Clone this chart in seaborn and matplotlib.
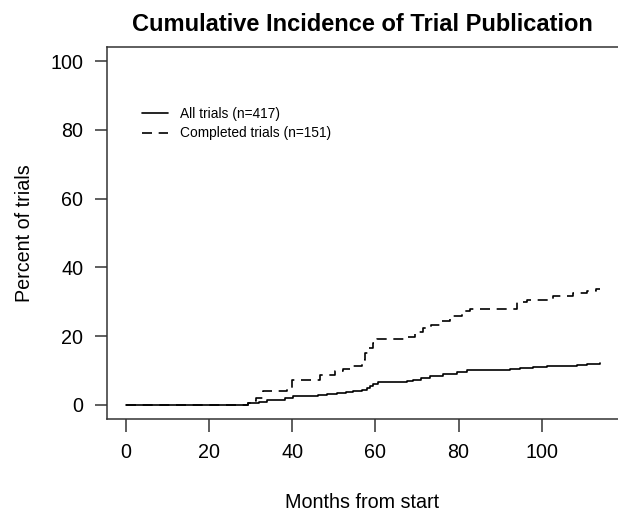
import seaborn as sns
import pandas as pd
import matplotlib.pyplot as plt

# months from start / cumulative percent published
all_months = [0, 29.4, 30.5, 32.0, 33.9, 38.3, 40.3, 46.3, 48.5, 50.7, 53.0, 54.7, 56.7,
              57.9, 58.8, 59.5, 60.7, 67.5, 69.1, 71.0, 73.1, 76.3, 79.6, 82.0, 84.4,
              92.4, 94.8, 98.0, 101.2, 105.0, 108.4, 111.0, 114.0]
all_pct = [0, 0.5, 0.7, 1.0, 1.4, 1.9, 2.6, 2.9, 3.1, 3.4, 3.8, 4.1, 4.3,
           5.0, 5.5, 6.0, 6.7, 7.0, 7.4, 7.9, 8.4, 9.1, 9.6, 10.1, 10.3,
           10.5, 10.8, 11.0, 11.2, 11.4, 11.6, 11.8, 12.1]

done_months = [0, 29.4, 30.5, 31.3, 33.0, 38.7, 40.0, 46.7, 50.3, 52.3, 54.7, 56.7, 57.5,
               58.5, 59.5, 60.5, 67.5, 69.5, 71.5, 73.5, 75.6, 78.0, 80.8, 82.8, 94.0,
               96.4, 102.8, 107.6, 110.8, 113.0, 114.0]
done_pct = [0, 0.7, 1.3, 2.0, 4.0, 4.6, 7.3, 8.6, 9.9, 10.6, 11.3, 13.2, 15.2,
            16.6, 17.9, 19.2, 19.9, 21.2, 22.5, 23.2, 24.5, 25.8, 27.2, 27.8, 29.8,
            30.5, 31.8, 32.5, 33.1, 33.8, 33.8]

x_ticks = [0, 20, 40, 60, 80, 100]
y_ticks = [0, 20, 40, 60, 80, 100]

sns.set_theme(style='white')
plt.rcParams['font.family'] = ['Liberation Sans', 'DejaVu Sans']
plt.rcParams['text.color'] = 'black'
plt.rcParams['axes.labelcolor'] = 'black'
plt.rcParams['xtick.color'] = 'black'
plt.rcParams['ytick.color'] = 'black'

fig = plt.figure(figsize=(6.18, 5.14), dpi=100)
# plot box runs past the right edge of the figure, as in the cropped original
ax = fig.add_axes([107/618, 95/514, 560/618, 372/514])

sns.lineplot(x=all_months, y=all_pct, color='black', linewidth=1.2,
             drawstyle='steps-post', label='All trials (n=417)', ax=ax)
sns.lineplot(x=done_months, y=done_pct, color='black', linewidth=1.2,
             linestyle=(0, (6, 4)), drawstyle='steps-post',
             label='Completed trials (n=151)', ax=ax)

ax.set_xlim(-4.5, (667 - 125.7) / 4.16)
ax.set_ylim(-4.07, 104.07)
ax.set_xticks(x_ticks)
ax.set_yticks(y_ticks)
ax.tick_params(axis='both', direction='out', length=9, width=1.1, color='#333333',
               labelsize=14.2, pad=8, bottom=True, left=True)
for s in ax.spines.values():
    s.set_color('#333333')
    s.set_linewidth(1.1)
ax.spines['right'].set_visible(False)

ax.set_xlabel('Months from start', fontsize=14.2, labelpad=25)
ax.xaxis.set_label_coords(362/618, 1 - 503/514, transform=fig.transFigure)
ax.yaxis.label.set_va('center')
ax.set_ylabel('Percent of trials', fontsize=14.2)
ax.yaxis.set_label_coords(25/618, 1 - 233/514, transform=fig.transFigure)
ax.xaxis.label.set_va('center')
fig.text(362/618, 1 - 31/514, 'Cumulative Incidence of Trial Publication',
         ha='center', va='baseline', fontsize=17, fontweight='bold')

ax.legend(frameon=False, fontsize=9.9, loc='upper left',
          bbox_to_anchor=(142/618, 1 - 107/514), bbox_transform=fig.transFigure,
          borderpad=0, borderaxespad=0, handlelength=1.9, handletextpad=0.85,
          labelspacing=0.4)

fig.savefig('out.png', dpi=100)
